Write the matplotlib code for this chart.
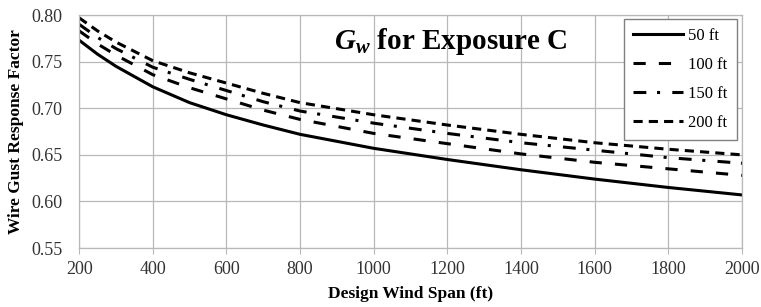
import numpy as np
import matplotlib.pyplot as plt

plt.rcParams['font.family'] = 'Liberation Serif'
plt.rcParams['mathtext.fontset'] = 'custom'
plt.rcParams['mathtext.rm'] = 'Liberation Serif:bold'
plt.rcParams['mathtext.bfit'] = 'Liberation Serif:italic:bold'
plt.rcParams['mathtext.it'] = 'Liberation Serif:italic:bold'

# Data
span = [200, 250, 300, 400, 500, 600, 700, 800, 1000, 1200, 1400, 1600, 1800, 2000]
gw_50 = [0.773, 0.758, 0.745, 0.723, 0.706, 0.693, 0.682, 0.672, 0.657, 0.645, 0.634, 0.624, 0.615, 0.607]
gw_100 = [0.783, 0.769, 0.757, 0.736, 0.722, 0.710, 0.698, 0.688, 0.673, 0.662, 0.651, 0.642, 0.635, 0.628]
gw_150 = [0.790, 0.776, 0.764, 0.744, 0.731, 0.719, 0.707, 0.697, 0.684, 0.673, 0.663, 0.655, 0.647, 0.641]
gw_200 = [0.797, 0.783, 0.771, 0.751, 0.738, 0.727, 0.716, 0.706, 0.693, 0.682, 0.672, 0.663, 0.656, 0.650]
labels = ['50 ft', '100 ft', '150 ft', '200 ft']

xticks = np.arange(200, 2001, 200)
yticks = [0.55, 0.60, 0.65, 0.70, 0.75, 0.80]

fig, ax = plt.subplots(figsize=(7.61, 3.07), dpi=100)
fig.subplots_adjust(left=0.104, right=0.975, top=0.951, bottom=0.192)

lw = 2.2
ax.plot(span, gw_50, '-', color='black', lw=lw, label=labels[0])
ax.plot(span, gw_100, color='black', lw=lw, dashes=(4, 4.3), label=labels[1])
ax.plot(span, gw_150, color='black', lw=lw, dashes=(4.2, 3.5, 1, 4.0), label=labels[2])
ax.plot(span, gw_200, color='black', lw=lw, dashes=(3, 2.0), label=labels[3])

ax.set_xlim(200, 2000)
ax.set_ylim(0.55, 0.80)
ax.set_xticks(xticks)
ax.set_yticks(yticks)
ax.set_xticklabels([f'{t:d}' for t in xticks])
ax.set_yticklabels([f'{t:.2f}' for t in yticks])
ax.grid(True, color='#b8b8b8', lw=0.9)
ax.set_axisbelow(True)
ax.tick_params(axis='x', length=4, color='#b8b8b8', labelsize=13, pad=5, labelcolor='#333333')
ax.tick_params(axis='y', length=0, labelsize=13, pad=12, labelcolor='#333333')
for spine in ax.spines.values():
    spine.set_color('#b8b8b8')
    spine.set_linewidth(0.9)

ax.set_xlabel('Design Wind Span (ft)', fontsize=12.5, fontweight='bold', labelpad=6)
ax.set_ylabel('Wire Gust Response Factor', fontsize=12.5, fontweight='bold', labelpad=5)

ax.text(0.56, 0.885, r'$\mathbfit{G}_{\mathbfit{w}}$ for Exposure C', transform=ax.transAxes,
        fontsize=21, fontweight='bold', ha='center', va='center')

leg = ax.legend(loc='upper right', bbox_to_anchor=(0.9925, 0.983), fontsize=12, handlelength=3.0,
                handletextpad=0.3, labelspacing=0.78, borderpad=0.55, borderaxespad=0,
                fancybox=False, framealpha=1, edgecolor='#808080')
leg.get_frame().set_linewidth(1.0)

plt.savefig('out.png')
